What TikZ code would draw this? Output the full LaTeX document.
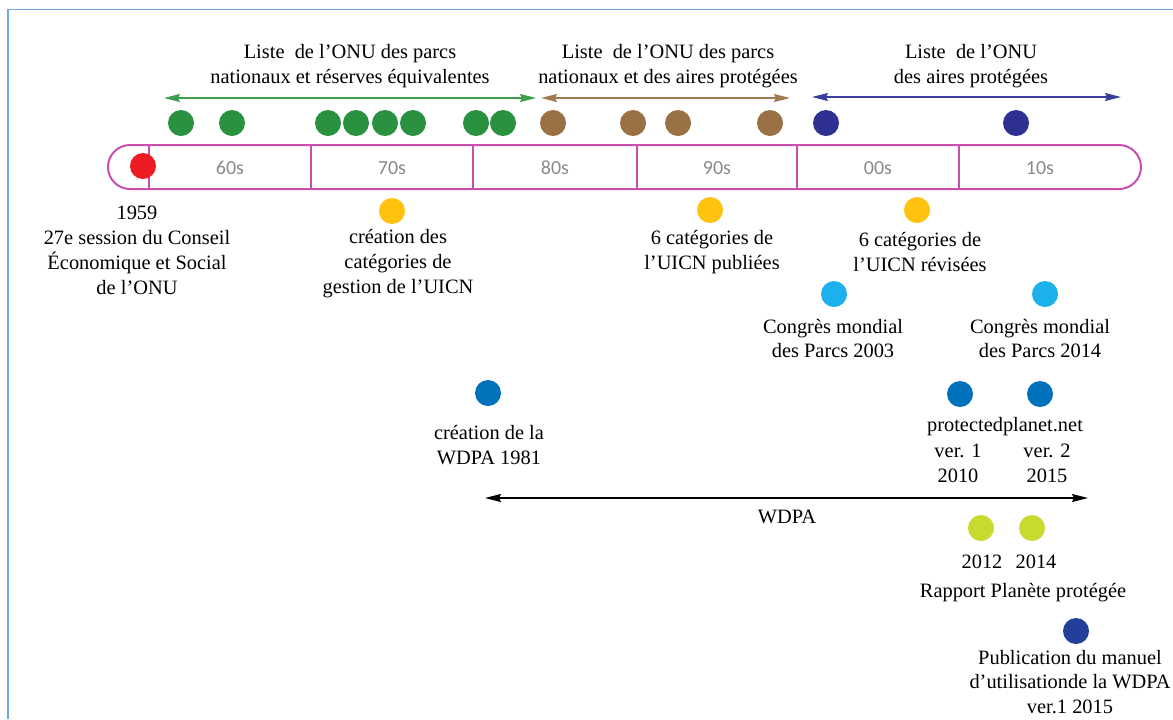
\documentclass[tikz,border=0pt]{standalone}
\usepackage{fontspec}
\setmainfont{Liberation Serif}
\newfontfamily\decfont{Carlito}
\usepackage{xcolor}
\usepackage{tikz}
\usetikzlibrary{arrows.meta,positioning,calc}
\definecolor{framebl}{HTML}{6FA8DC}
\definecolor{barmag}{HTML}{C94FAE}
\definecolor{decgray}{HTML}{8A8A8A}
\definecolor{dotred}{HTML}{ED1C24}
\definecolor{dotgreen}{HTML}{2A9140}
\definecolor{dotbrown}{HTML}{9A7145}
\definecolor{dotnavy}{HTML}{2E3192}
\definecolor{dotyellow}{HTML}{FFC20E}
\definecolor{dotsky}{HTML}{1CB0EC}
\definecolor{dotblue}{HTML}{0072BC}
\definecolor{dotlime}{HTML}{C8D92F}
\definecolor{dotdeep}{HTML}{22409A}
\definecolor{arrgreen}{HTML}{3C9E4C}
\definecolor{arrbrown}{HTML}{A07A52}
\definecolor{arrnavy}{HTML}{3A3D9A}

\begin{document}
\begin{tikzpicture}[
  x=0.5pt,y=-0.5pt,
  font=\fontsize{10.2}{12.4}\selectfont,
  dot/.style={circle,inner sep=0pt,minimum size=13pt,draw=none},
  txt/.style={align=center,inner sep=0pt},
  dec/.style={font=\decfont\fontsize{10}{11}\selectfont,text=decgray,inner sep=0pt},
  arr/.style={{Stealth[length=8pt,width=4pt,inset=1pt]}-{Stealth[length=8pt,width=4pt,inset=1pt]},line width=0.8pt}
]
\useasboundingbox (0,0) rectangle (1173,719);
% frame
\draw[framebl,line width=0.6pt] (8,719) -- (8,9.5) -- (1173,9.5);

% decades bar
\draw[barmag,line width=1pt,rounded corners=11pt] (108,145) rectangle (1141,189);
\foreach \x in {149,311,473,637,959} \draw[barmag,line width=1pt] (\x,145) -- (\x,189);
\draw[barmag,line width=1.4pt] (797,145) -- (797,189);
\foreach \x/\d in {230/60s,392/70s,555/80s,717/90s,878/00s,1040/10s}
  \node[dec] (d\d) at (\x,168) {\d};
\node[dot,fill=dotred] (r1959) at (143,166) {};

% UN lists
\foreach \x [count=\i] in {181,232,328,356,385,413,476,503}
  \node[dot,fill=dotgreen] (g\i) at (\x,123) {};
\foreach \x [count=\i] in {553,633,678,770}
  \node[dot,fill=dotbrown] (b\i) at (\x,123) {};
\foreach \x [count=\i] in {826,1016}
  \node[dot,fill=dotnavy] (n\i) at (\x,123) {};

\coordinate (ga) at (164,98);  \coordinate (gb) at (536,98);
\coordinate (ba) at (541,98);  \coordinate (bb) at (790,98);
\coordinate (na) at (812,97);  \coordinate (nb) at (1121,97);
\draw[arr,arrgreen] (ga) -- (gb);
\draw[arr,arrbrown] (ba) -- (bb);
\draw[arr,arrnavy] (na) -- (nb);
\node[txt] (listA) at (350,66) {Liste\ \ de l’ONU des parcs\\nationaux et réserves équivalentes};
\node[txt] (listB) at (668,66) {Liste\ \ de l’ONU des parcs\\nationaux et des aires protégées};
\node[txt] (listC) at (971,66) {Liste\ \ de l’ONU\\des aires protégées};

% 1959
\node[txt] (t1959) at (137,250.5) {1959\\27e session du Conseil\\Économique et Social\\de l’ONU};

% IUCN categories
\node[dot,fill=dotyellow] (y1) at (392,211) {};
\node[dot,fill=dotyellow] (y2) at (710,210) {};
\node[dot,fill=dotyellow] (y3) at (917,210) {};
\node[txt] (cat1) at (398,263.5) {création des\\catégories de\\gestion de l’UICN};
\node[txt] (cat2) at (712,252) {6 catégories de\\l’UICN publiées};
\node[txt] (cat3) at (920,252) {6 catégories de\\l’UICN révisées};

% world parks congress
\node[dot,fill=dotsky] (c1) at (834,294) {};
\node[dot,fill=dotsky] (c2) at (1045,294) {};
\node[txt] (wpc1) at (833,338.5) {Congrès mondial\\des Parcs 2003};
\node[txt] (wpc2) at (1040,338.5) {Congrès mondial\\des Parcs 2014};

% WDPA
\node[dot,fill=dotblue] (w1) at (488,393) {};
\node[dot,fill=dotblue] (w2) at (960,394) {};
\node[dot,fill=dotblue] (w3) at (1040,394) {};
\node[txt] (wdpa81) at (489,445) {création de la\\WDPA 1981};
\node[txt] (pp) at (1005,427) {protectedplanet.net};
\node[txt] (pp1) at (958,463) {ver. 1\\2010};
\node[txt] (pp2) at (1047,463) {ver. 2\\2015};
\coordinate (wa) at (485,498); \coordinate (wb) at (1088,498);
\draw[arr,black] (wa) -- (wb);
\node[txt] (wdpa) at (787,517) {WDPA};

% protected planet report
\node[dot,fill=dotlime] (p1) at (981,528) {};
\node[dot,fill=dotlime] (p2) at (1032,528) {};
\node[txt] (p2012) at (982,562) {2012};
\node[txt] (p2014) at (1036,562) {2014};
\node[txt] (rpp) at (1023,593) {Rapport Planète protégée};

% manual
\node[dot,fill=dotdeep] (m1) at (1076,631) {};
\node[txt] (man) at (1070,682) {Publication du manuel\\d’utilisationde la WDPA\\ver.1 2015};
\end{tikzpicture}
\end{document}
